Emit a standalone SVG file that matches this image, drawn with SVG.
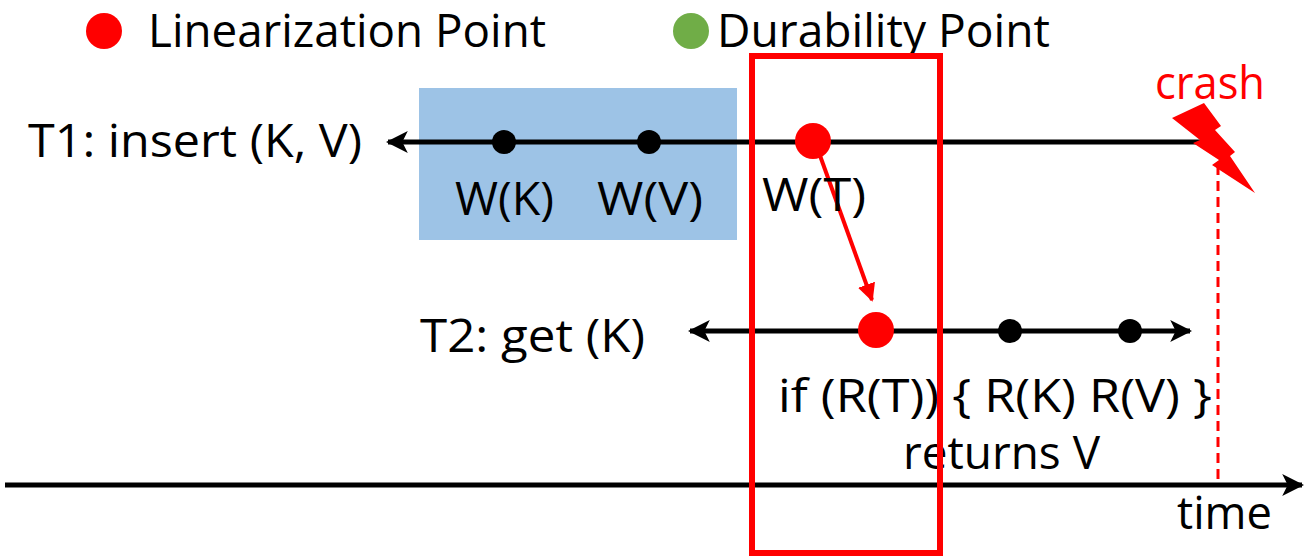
<svg xmlns="http://www.w3.org/2000/svg" width="1306" height="558" viewBox="0 0 1306 558">
  <style>
    .lbl { font-family: "Open Sans", "Liberation Sans", sans-serif; font-size: 45px; fill: #000; }
    .red { fill: #FF0000; }
    .ln { stroke: #000; stroke-width: 5; fill: none; }
  </style>
  <defs>
    <marker id="blackHead" viewBox="0 0 10 10" refX="9" refY="5" markerWidth="4.4" markerHeight="4.4" orient="auto-start-reverse" markerUnits="strokeWidth">
      <path d="M0,0 L10,5 L0,10 L2.5,5 Z" fill="#000"/>
    </marker>
    <marker id="redHead" viewBox="0 0 10 10" refX="9" refY="5" markerWidth="4.5" markerHeight="4.5" orient="auto" markerUnits="strokeWidth">
      <path d="M0,0 L10,5 L0,10 Z" fill="#FF0000"/>
    </marker>
  </defs>

  <rect width="1306" height="558" fill="#fff"/>

  <!-- legend -->
  <g id="legend">
    <circle cx="104" cy="31" r="18" class="red"/>
    <text x="148" y="47" class="lbl" textLength="398" lengthAdjust="spacingAndGlyphs">Linearization Point</text>
    <circle cx="691" cy="31" r="18" fill="#70AD47"/>
    <text x="717" y="47" class="lbl" textLength="333" lengthAdjust="spacingAndGlyphs">Durability Point</text>
  </g>

  <!-- persist region for W(K), W(V) -->
  <rect id="persist-region" x="419" y="88" width="318" height="152" fill="#9DC3E6"/>

  <g id="connectors">
    <!-- T1 timeline -->
    <line x1="1200" y1="142" x2="388" y2="142" class="ln" marker-end="url(#blackHead)"/>
    <!-- T2 timeline -->
    <line x1="690" y1="331" x2="1190" y2="331" class="ln" marker-start="url(#blackHead)" marker-end="url(#blackHead)"/>
    <!-- global time axis -->
    <line x1="5" y1="485" x2="1302" y2="485" class="ln" marker-end="url(#blackHead)"/>
    <!-- crash instant -->
    <line x1="1218" y1="165" x2="1218" y2="485" stroke="#FF0000" stroke-width="3" stroke-dasharray="10,6"/>
    <!-- visibility of W(T) to R(T) -->
    <line x1="818" y1="150" x2="872" y2="300" stroke="#FF0000" stroke-width="4" marker-end="url(#redHead)"/>
  </g>

  <g id="t1">
    <text x="28" y="157" class="lbl" textLength="334" lengthAdjust="spacingAndGlyphs">T1: insert (K, V)</text>
    <circle cx="504" cy="142" r="12" fill="#000"/>
    <circle cx="649" cy="142" r="12" fill="#000"/>
    <circle cx="813" cy="141" r="18" class="red"/>
    <text x="455" y="215" class="lbl" textLength="99" lengthAdjust="spacingAndGlyphs">W(K)</text>
    <text x="597" y="215" class="lbl" textLength="106" lengthAdjust="spacingAndGlyphs">W(V)</text>
    <text x="762" y="211" class="lbl" textLength="104" lengthAdjust="spacingAndGlyphs">W(T)</text>
  </g>

  <g id="t2">
    <text x="420" y="352" class="lbl" textLength="225" lengthAdjust="spacingAndGlyphs">T2: get (K)</text>
    <circle cx="876" cy="330" r="18" class="red"/>
    <circle cx="1010" cy="331" r="12" fill="#000"/>
    <circle cx="1130" cy="331" r="12" fill="#000"/>
    <text x="778" y="412" class="lbl" textLength="434" lengthAdjust="spacingAndGlyphs">if (R(T)) { R(K) R(V) }</text>
    <text x="903" y="469" class="lbl" textLength="197" lengthAdjust="spacingAndGlyphs">returns V</text>
  </g>

  <g id="crash">
    <text x="1155" y="99" class="lbl red" textLength="110" lengthAdjust="spacingAndGlyphs">crash</text>
    <polygon points="1172,118 1204,103 1221,126 1215,130 1235,152 1230,156 1255,193 1212,165 1219,160 1193,143 1200,140" fill="#FF0000"/>
  </g>

  <!-- highlighted window -->
  <rect id="window" x="752" y="56" width="188" height="497" fill="none" stroke="#FF0000" stroke-width="6"/>

  <text id="time-label" x="1177" y="529" class="lbl" textLength="95" lengthAdjust="spacingAndGlyphs">time</text>
</svg>
